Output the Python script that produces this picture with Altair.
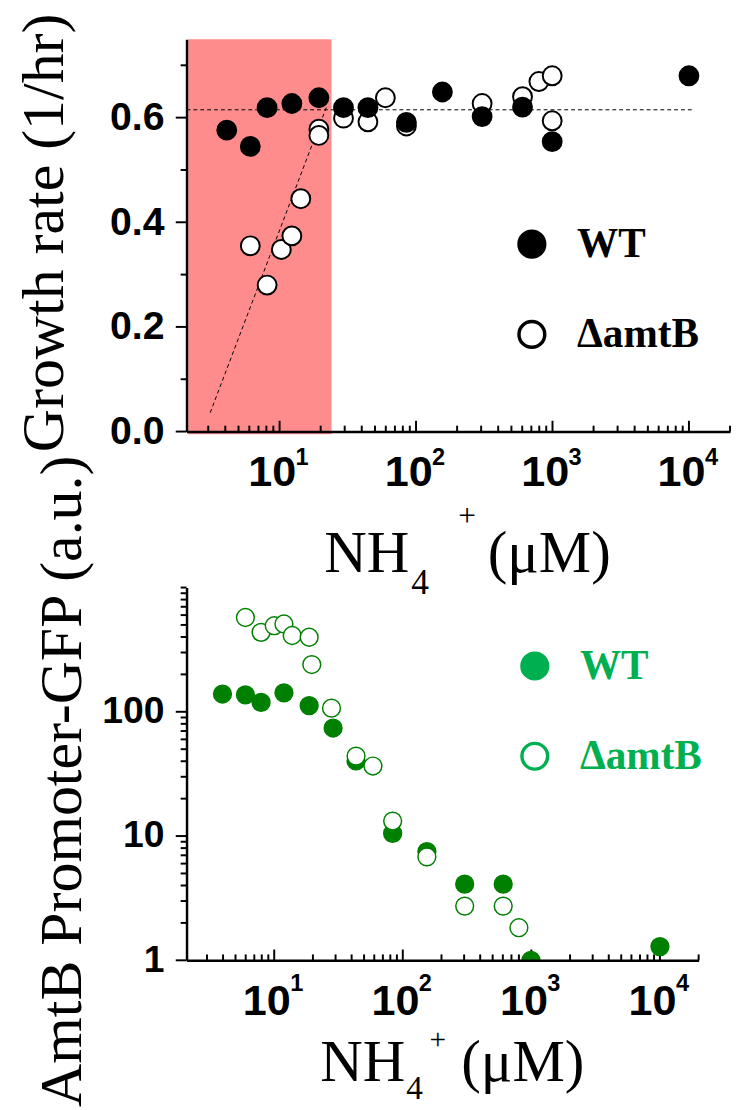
import altair as alt
import pandas as pd

# ---------------- data ----------------
series_names = ["WT", "ΔamtB"]

# top panel: growth rate (1/hr) vs NH4+ (uM)
growth_wt_nh4 = [4.1, 6.1, 8.1, 12.3, 19.4, 29.4, 44.4, 85, 156, 305, 603, 995, 10000]
growth_wt = [0.576, 0.545, 0.619, 0.627, 0.638, 0.619, 0.619, 0.591, 0.649, 0.602, 0.620, 0.554, 0.680]
growth_amtb_nh4 = [6.1, 8.1, 10.3, 12.3, 14.3, 19.4, 19.4, 29.4, 44.4, 59.6, 85, 305, 603, 795, 995, 995]
growth_amtb = [0.355, 0.280, 0.348, 0.374, 0.445, 0.578, 0.566, 0.599, 0.592, 0.638, 0.584, 0.627, 0.640, 0.669, 0.680, 0.594]

# dashed guide lines in the top panel
plateau_nh4 = [2.08, 10500]
plateau_rate = [0.615, 0.615]
ramp_nh4 = [3.1, 22.1]
ramp_rate = [0.036, 0.621]

# shaded low-ammonium region
shade_nh4 = [2.14, 24.0]
shade_rate = [-0.005, 0.75]

# bottom panel: AmtB promoter-GFP (a.u.)
gfp_wt_nh4 = [3.96, 5.97, 7.9, 11.9, 18.7, 28.7, 43.3, 83.4, 154, 303, 604, 993, 10000]
gfp_wt = [139, 137, 119, 142, 112, 74, 40.2, 10.5, 7.5, 4.1, 4.1, 1.0, 1.29]
gfp_amtb_nh4 = [5.97, 7.9, 10.0, 11.9, 13.8, 18.7, 19.6, 27.9, 43.3, 58.6, 83.4, 154, 303, 604, 800]
gfp_amtb = [574, 436, 493, 509, 411, 398, 240, 107, 44, 36.6, 13.2, 6.8, 2.73, 2.73, 1.83]

# axis ticks / labels
x_major = [10, 100, 1000, 10000]
x_exponents = ["1", "2", "3", "4"]
x_minor = [3, 4, 5, 6, 7, 8, 9,
           20, 30, 40, 50, 60, 70, 80, 90,
           200, 300, 400, 500, 600, 700, 800, 900,
           2000, 3000, 4000, 5000, 6000, 7000, 8000, 9000,
           20000]
growth_major = [0.0, 0.2, 0.4, 0.6]
growth_minor = [0.1, 0.3, 0.5, 0.7]
gfp_major = [1, 10, 100]
gfp_minor = [2, 3, 4, 5, 6, 7, 8, 9,
             20, 30, 40, 50, 60, 70, 80, 90,
             200, 300, 400, 500, 600, 700, 800, 900, 1000]

# ---------------- tables ----------------
growth_df = pd.concat([
    pd.DataFrame({"nh4": growth_amtb_nh4, "val": growth_amtb, "series": series_names[1], "z": 0}),
    pd.DataFrame({"nh4": growth_wt_nh4, "val": growth_wt, "series": series_names[0], "z": 1}),
], ignore_index=True)
gfp_df = pd.concat([
    pd.DataFrame({"nh4": gfp_wt_nh4, "val": gfp_wt, "series": series_names[0], "z": 0}),
    pd.DataFrame({"nh4": gfp_amtb_nh4, "val": gfp_amtb, "series": series_names[1], "z": 1}),
], ignore_index=True)
fit_df = pd.concat([
    pd.DataFrame({"nh4": plateau_nh4, "val": plateau_rate, "fit": "plateau"}),
    pd.DataFrame({"nh4": ramp_nh4, "val": ramp_rate, "fit": "ramp"}),
], ignore_index=True)
shade_df = pd.DataFrame({"x0": [shade_nh4[0]], "x1": [shade_nh4[1]],
                         "y0": [shade_rate[0]], "y1": [shade_rate[1]]})
exp_df = pd.DataFrame({"nh4": x_major, "e": x_exponents})
xmaj_df = pd.DataFrame({"t": x_major})
xmin_df = pd.DataFrame({"t": x_minor})
one_row = pd.DataFrame({"k": [0]})

# ---------------- styling ----------------
SANS = "Liberation Sans, Arial, Helvetica, sans-serif"
SERIF = "Liberation Serif, Times New Roman, Times, serif"
W1, H1 = 554, 400
W2, H2 = 522, 380
X_DOMAIN = [2.08, 20000]
GREEN_DARK = "#008000"
GREEN_LIGHT = "#00b050"
MAJOR_LEN, MINOR_LEN = 11, 6


def x_axis():
    return alt.Axis(
        values=x_major, title=None, labelExpr="'10'", ticks=False,
        labelPadding=20, labelOffset=-8,
        labelFont=SANS, labelFontWeight="bold", labelFontSize=44, labelColor="black",
        labelOverlap=False, labelFlush=False, labelBound=False,
        domainColor="black", domainWidth=2.5, grid=False, zindex=1,
    )


def y_axis(values, fmt, title, title_x, title_y, label_size):
    return alt.Axis(
        values=values, title=title, format=fmt, ticks=False,
        labelPadding=23, labelFont=SANS, labelFontWeight="bold", labelFontSize=label_size,
        labelColor="black", labelOverlap=False, labelFlush=False, labelBound=False,
        domainColor="black", domainWidth=2.5,
        titleFont=SERIF, titleFontWeight="normal", titleFontSize=61, titleColor="black",
        titleX=title_x, titleY=title_y, titleAlign="center", titleBaseline="alphabetic",
        titleAngle=270, grid=False, zindex=1,
    )


def legend(color, lx, ly):
    return alt.Legend(
        title=None, orient="none", legendX=lx, legendY=ly, padding=0,
        symbolType="circle", symbolSize=690, symbolStrokeColor=color, symbolStrokeWidth=3.5,
        symbolOpacity=1, labelFont=SERIF, labelFontWeight="bold", labelFontSize=42,
        labelColor=color, labelOffset=25, rowPadding=50,
        labelExpr="datum.label == 'WT' ? 'WT' : '\u00a0ΔamtB'",
    )


def text_piece(txt, x, y, size, align="left"):
    return alt.Chart(one_row).mark_text(
        text=txt, font=SERIF, fontSize=size, align=align, baseline="alphabetic", color="black"
    ).encode(x=alt.value(x), y=alt.value(y))


def x_title(h, nh_end, sub_x, plus_x, paren_x, base, sub_base, plus_base, sub_size, plus_size):
    return [
        text_piece("NH", nh_end, h + base, 60, "right"),
        text_piece("4", sub_x, h + sub_base, sub_size),
        text_piece("+", plus_x, h + plus_base, plus_size, "center"),
        text_piece("(μM)", paren_x, h + base, 60),
    ]


def x_tick_layers(xs, xa, h):
    maj = alt.Chart(xmaj_df).mark_rule(color="black", strokeWidth=2).encode(
        x=alt.X("t:Q", scale=xs, axis=xa), y=alt.value(h), y2=alt.value(h - MAJOR_LEN))
    mnr = alt.Chart(xmin_df).mark_rule(color="black", strokeWidth=2).encode(
        x=alt.X("t:Q", scale=xs, axis=xa), y=alt.value(h), y2=alt.value(h - MINOR_LEN))
    return [maj, mnr]


def y_tick_layers(ys, ya, major, minor):
    maj = alt.Chart(pd.DataFrame({"t": major})).mark_rule(color="black", strokeWidth=2).encode(
        y=alt.Y("t:Q", scale=ys, axis=ya), x=alt.value(-MAJOR_LEN), x2=alt.value(0))
    mnr = alt.Chart(pd.DataFrame({"t": minor})).mark_rule(color="black", strokeWidth=2).encode(
        y=alt.Y("t:Q", scale=ys, axis=ya), x=alt.value(-MINOR_LEN), x2=alt.value(0))
    return [maj, mnr]


# ---------------- top panel ----------------
xs1 = alt.Scale(type="log", domain=X_DOMAIN)
ys1 = alt.Scale(domain=[0, 0.75], nice=False, zero=False)
xa1 = x_axis()
ya1 = y_axis(growth_major, ".1f", "Growth rate (1/hr)", -126, 197, 40)

shade = alt.Chart(shade_df).mark_rect(color="#ff8c8c").encode(
    x=alt.X("x0:Q", scale=xs1, axis=xa1), x2="x1:Q",
    y=alt.Y("y0:Q", scale=ys1, axis=ya1), y2="y1:Q",
)
fits = alt.Chart(fit_df).mark_line(color="black", strokeWidth=1, strokeDash=[4, 3]).encode(
    x=alt.X("nh4:Q", scale=xs1, axis=xa1),
    y=alt.Y("val:Q", scale=ys1, axis=ya1),
    detail="fit:N",
)
pts1 = alt.Chart(growth_df).mark_point(
    shape="circle", filled=True, size=370, stroke="black", strokeWidth=2, opacity=1
).encode(
    x=alt.X("nh4:Q", scale=xs1, axis=xa1),
    y=alt.Y("val:Q", scale=ys1, axis=ya1),
    fill=alt.Fill("series:N", scale=alt.Scale(domain=series_names, range=["black", "white"]), legend=None),
    order=alt.Order("z:Q"),
)
leg1 = alt.Chart(growth_df).transform_filter("false").mark_point(
    shape="circle", filled=True, size=690, stroke="black", strokeWidth=3.5, opacity=1
).encode(
    x=alt.X("nh4:Q", scale=xs1, axis=xa1),
    y=alt.Y("val:Q", scale=ys1, axis=ya1),
    fill=alt.Fill("series:N", scale=alt.Scale(domain=series_names, range=["black", "white"]),
                  legend=legend("black", 331, 188)),
)
exp1 = alt.Chart(exp_df).mark_text(
    font=SANS, fontWeight="bold", fontSize=24, dx=23, align="center", baseline="alphabetic", color="black"
).encode(x=alt.X("nh4:Q", scale=xs1, axis=xa1), y=alt.value(H1 + 34), text="e:N")

top = alt.layer(
    shade, fits,
    *x_tick_layers(xs1, xa1, H1),
    *y_tick_layers(ys1, ya1, growth_major, growth_minor),
    pts1, leg1, exp1,
    *x_title(H1, 227, 229, 286, 307, 143, 166, 96, 36, 32),
).resolve_scale(fill="independent").properties(width=W1, height=H1)

# ---------------- bottom panel ----------------
xs2 = alt.Scale(type="log", domain=X_DOMAIN)
ys2 = alt.Scale(type="log", domain=[1, 1000], nice=False)
xa2 = x_axis()
ya2 = y_axis(gfp_major, "d", "AmtB Promoter-GFP (a.u.)", -108, 197, 38)

pts2 = alt.Chart(gfp_df).mark_point(
    shape="circle", filled=True, size=330, stroke=GREEN_DARK, strokeWidth=1.5, opacity=1, clip=True
).encode(
    x=alt.X("nh4:Q", scale=xs2, axis=xa2),
    y=alt.Y("val:Q", scale=ys2, axis=ya2),
    fill=alt.Fill("series:N", scale=alt.Scale(domain=series_names, range=[GREEN_DARK, "white"]), legend=None),
    order=alt.Order("z:Q"),
)
leg2 = alt.Chart(gfp_df).transform_filter("false").mark_point(
    shape="circle", filled=True, size=690, stroke=GREEN_LIGHT, strokeWidth=3.5, opacity=1
).encode(
    x=alt.X("nh4:Q", scale=xs2, axis=xa2),
    y=alt.Y("val:Q", scale=ys2, axis=ya2),
    fill=alt.Fill("series:N", scale=alt.Scale(domain=series_names, range=[GREEN_LIGHT, "white"]),
                  legend=legend(GREEN_LIGHT, 334, 59)),
)
exp2 = alt.Chart(exp_df).mark_text(
    font=SANS, fontWeight="bold", fontSize=24, dx=23, align="center", baseline="alphabetic", color="black"
).encode(x=alt.X("nh4:Q", scale=xs2, axis=xa2), y=alt.value(H2 + 31), text="e:N")

bottom = alt.layer(
    *x_tick_layers(xs2, xa2, H2),
    *y_tick_layers(ys2, ya2, gfp_major, gfp_minor),
    pts2, leg2, exp2,
    *x_title(H2, 223, 224, 256, 280, 123, 141, 90, 34, 30),
).resolve_scale(fill="independent").properties(width=W2, height=H2)

chart = alt.vconcat(top, bottom, spacing=159, bounds="flush").properties(
    padding={"left": 6, "top": -6, "right": 0, "bottom": 0}
).configure_view(stroke=None)

chart.save("out.html", embed_options={"renderer": "svg", "actions": False})
